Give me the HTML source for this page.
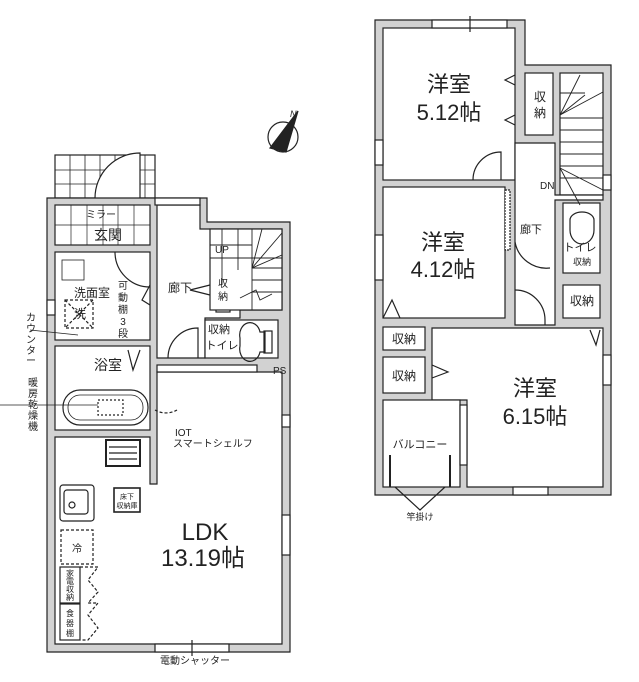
<!DOCTYPE html>
<html><head><meta charset="utf-8"><style>
html,body{margin:0;padding:0;background:#fff;width:639px;height:682px;overflow:hidden}
svg{display:block}
text{font-family:"Liberation Sans","Noto Sans CJK JP",sans-serif;fill:#222}
</style></head><body>
<svg width="639" height="682" viewBox="0 0 639 682" xmlns="http://www.w3.org/2000/svg">
<g stroke="#222" stroke-width="1.2">
<rect x="55" y="155" width="100" height="43" fill="#fff"/>
<g stroke-width="0.8">
<line x1="55" y1="170" x2="155" y2="170"/><line x1="55" y1="184" x2="155" y2="184"/>
<line x1="70" y1="155" x2="70" y2="198"/><line x1="85" y1="155" x2="85" y2="198"/><line x1="100" y1="155" x2="100" y2="198"/><line x1="115" y1="155" x2="115" y2="198"/><line x1="130" y1="155" x2="130" y2="198"/><line x1="145" y1="155" x2="145" y2="198"/>
</g>
<path d="M95 198 A45 45 0 0 1 140 153 L140 198" fill="#fff"/>
<path d="M47 198 H207 V222 H290 V652 H47 Z" fill="#d2d2d2"/>
<rect x="55" y="205" width="95" height="40" fill="#fff"/>
<g stroke-width="0.7"><line x1="55" y1="225" x2="150" y2="225"/><line x1="87" y1="205" x2="87" y2="245"/><line x1="118" y1="205" x2="118" y2="245"/><line x1="71" y1="205" x2="71" y2="245"/><line x1="103" y1="205" x2="103" y2="245"/><line x1="134" y1="205" x2="134" y2="245"/></g>
<rect x="55" y="252" width="95" height="88" fill="#fff"/>
<rect x="55" y="346" width="95" height="84" fill="#fff"/>
<path d="M157 205 H200 V229 H282 V310 H240 V318 H205 V358 H157 Z" fill="#fff"/>
<rect x="205" y="320" width="73" height="38" fill="#fff"/>
<rect x="216" y="273" width="14" height="39" fill="#fff"/>
<path d="M55 437 H150 V484 H157 V372 H282 V644 H55 Z" fill="#fff"/>
<rect x="210" y="229" width="72" height="81" fill="#fff"/>
<g stroke-width="0.9">
<line x1="222" y1="229" x2="222" y2="285"/><line x1="238" y1="229" x2="238" y2="270"/><line x1="252" y1="229" x2="252" y2="268"/>
<line x1="210" y1="245" x2="252" y2="245"/><line x1="210" y1="258" x2="282" y2="258"/><line x1="252" y1="268" x2="282" y2="268"/>
<line x1="252" y1="280" x2="282" y2="280"/><line x1="252" y1="292" x2="282" y2="292"/><line x1="252" y1="268" x2="252" y2="310"/>
<line x1="252" y1="268" x2="282" y2="233"/><line x1="252" y1="268" x2="262" y2="229"/><line x1="252" y1="268" x2="282" y2="255"/>
<path d="M240 298 L256 290 L260 300 L272 294" fill="none"/>
</g>
<rect x="155" y="198" width="45" height="7" fill="#fff"/>
<rect x="157" y="365" width="100" height="7" fill="#fff"/>
<rect x="155" y="644" width="74" height="8" fill="#fff"/>
<line x1="192" y1="640" x2="192" y2="656"/>
<rect x="282" y="515" width="8" height="40" fill="#fff"/>
<rect x="282" y="415" width="8" height="12" fill="#fff"/>
<rect x="47" y="300" width="8" height="15" fill="#fff"/>
<path d="M115 252 A35 35 0 0 0 150 287" fill="none"/>
<path d="M168 358 A30 30 0 0 1 198 328 V358" fill="none"/>
<path d="M150 285 L142 300 L150 305" fill="none"/>
<path d="M210 285 L190 290 L210 295" fill="none"/>
<path d="M128 350 L133 370 L140 350" fill="none"/>
<path d="M155 410 A22 22 0 0 0 177 410" fill="none" stroke-dasharray="3 2"/>
<rect x="62" y="260" width="22" height="20" fill="none" stroke-width="0.8"/>
<rect x="65" y="300" width="28" height="28" fill="none" stroke-dasharray="3 2"/>
<line x1="65" y1="300" x2="93" y2="328" stroke-dasharray="3 2"/><line x1="93" y1="300" x2="65" y2="328" stroke-dasharray="3 2"/>
<rect x="63" y="390" width="85" height="35" rx="17" fill="none"/>
<rect x="68" y="395" width="75" height="25" rx="12" fill="none" stroke-width="0.8"/>
<rect x="98" y="400" width="25" height="15" fill="none" stroke-dasharray="2 2"/>
<line x1="0" y1="405" x2="98" y2="405" stroke-width="0.8"/>
<line x1="30" y1="330" x2="78" y2="335" stroke-width="0.8"/>
<path d="M240 338 A10 12 0 0 1 260 332 H265 V352 H260 A10 12 0 0 1 240 346 Z" fill="none"/>
<rect x="264" y="331" width="8" height="22" fill="none"/>
<rect x="106" y="440" width="34" height="26" fill="#fff" stroke-width="2"/>
<g stroke-width="1.3"><line x1="109" y1="447" x2="137" y2="447"/><line x1="109" y1="453" x2="137" y2="453"/><line x1="109" y1="459" x2="137" y2="459"/></g>
<rect x="60" y="485" width="34" height="36" rx="3" fill="none"/>
<rect x="64" y="490" width="24" height="24" rx="3" fill="none"/>
<circle cx="72" cy="505" r="3" fill="none"/>
<rect x="61" y="530" width="32" height="34" fill="none" stroke-dasharray="3 2"/>
<rect x="60" y="567" width="20" height="36" fill="none"/>
<rect x="60" y="604" width="20" height="36" fill="none"/>
<path d="M80 567 H98 L88 580 L98 592 L88 603 L98 603 L88 615 L98 628 L88 640 H80" fill="none" stroke-dasharray="3 2"/>
<rect x="114" y="488" width="26" height="24" fill="#fff" stroke-width="1.6"/>
<circle cx="283" cy="137" r="15" fill="#fff"/>
<path d="M298 111 L270 148 L286 152 Z" fill="#222"/>
<path d="M375 20 H525 V65 H611 V495 H375 Z" fill="#d2d2d2"/>
<rect x="383" y="28" width="132" height="152" fill="#fff"/>
<rect x="525" y="73" width="28" height="62" fill="#fff"/>
<rect x="560" y="73" width="43" height="122" fill="#fff"/>
<rect x="383" y="187" width="122" height="131" fill="#fff"/>
<path d="M515 143 H555 V195 H603 V200 H555 V325 H515 Z" fill="#fff"/>
<rect x="563" y="203" width="37" height="70" fill="#fff"/>
<rect x="563" y="285" width="37" height="33" fill="#fff"/>
<rect x="383" y="327" width="42" height="23" fill="#fff"/>
<rect x="383" y="357" width="42" height="36" fill="#fff"/>
<path d="M432 328 H603 V487 H467 V400 H432 Z" fill="#fff"/>
<rect x="383" y="400" width="77" height="87" fill="#fff"/>
<g stroke-width="0.9">
<line x1="560" y1="93" x2="585" y2="93"/><line x1="560" y1="118" x2="603" y2="118"/><line x1="560" y1="130" x2="603" y2="130"/><line x1="560" y1="142" x2="603" y2="142"/><line x1="560" y1="154" x2="603" y2="154"/><line x1="560" y1="166" x2="603" y2="166"/><line x1="560" y1="178" x2="603" y2="178"/>
<line x1="560" y1="115" x2="580" y2="75"/><line x1="560" y1="115" x2="603" y2="92"/><line x1="560" y1="115" x2="585" y2="95"/>
<line x1="560" y1="168" x2="580" y2="205"/><line x1="560" y1="168" x2="603" y2="190"/>
</g>
<rect x="432" y="20" width="75" height="8" fill="#fff"/><line x1="470" y1="16" x2="470" y2="32"/>
<rect x="375" y="140" width="8" height="25" fill="#fff"/>
<rect x="375" y="235" width="8" height="45" fill="#fff"/>
<rect x="603" y="175" width="8" height="15" fill="#fff"/>
<rect x="603" y="355" width="8" height="30" fill="#fff"/>
<rect x="513" y="487" width="35" height="8" fill="#fff"/>
<rect x="460" y="405" width="7" height="60" fill="#fff"/>
<rect x="505" y="190" width="5" height="60" fill="#fff" stroke-dasharray="2 1"/>
<path d="M473 180 A28 28 0 0 1 501 152 V180" fill="none"/>
<path d="M515 242 A32 32 0 0 0 550 268" fill="none"/>
<path d="M515 290 A30 30 0 0 1 545 320 V325" fill="none"/>
<path d="M515 75 L505 80 L515 85 M515 115 L505 120 L515 125" fill="none"/>
<path d="M383 318 L392 300 L400 318" fill="none"/>
<path d="M432 365 L448 372 L432 378" fill="none"/>
<path d="M590 330 L596 345 L600 330" fill="none"/>
<path d="M395 487 L420 510 L445 487" fill="none"/>
<line x1="390" y1="455" x2="390" y2="487" stroke-width="2"/><line x1="450" y1="455" x2="450" y2="487" stroke-width="2"/>
<path d="M570 220 A12 8 0 0 1 594 220 V230 A12 14 0 0 1 570 230 Z" fill="none"/>
</g>
<text x="101" y="218" font-size="10" text-anchor="middle">ミラー</text>
<text x="108" y="240" font-size="14" text-anchor="middle">玄関</text>
<text x="215" y="253" font-size="10">UP</text>
<text x="180" y="292" font-size="12" text-anchor="middle">廊下</text>
<text x="223" y="287" font-size="10" text-anchor="middle">収</text><text x="223" y="300" font-size="10" text-anchor="middle">納</text>
<text x="219" y="333" font-size="11" text-anchor="middle">収納</text>
<text x="222" y="349" font-size="11" text-anchor="middle">トイレ</text>
<text x="273" y="374" font-size="10">PS</text>
<text x="92" y="297" font-size="12" text-anchor="middle">洗面室</text>
<text x="80" y="318" font-size="12" text-anchor="middle">洗</text>
<g font-size="10" text-anchor="middle"><text x="123" y="289">可</text><text x="123" y="301">動</text><text x="123" y="313">棚</text><text x="123" y="325">3</text><text x="123" y="337">段</text></g>
<text x="108" y="370" font-size="14" text-anchor="middle">浴室</text>
<text x="175" y="436" font-size="10">IOT</text>
<text x="173" y="447" font-size="10">スマートシェルフ</text>
<text x="127" y="499" font-size="7" text-anchor="middle">床下</text><text x="127" y="508" font-size="7" text-anchor="middle">収納庫</text>
<text x="77" y="552" font-size="10" text-anchor="middle">冷</text>
<g font-size="8" text-anchor="middle"><text x="70" y="576">家</text><text x="70" y="584">電</text><text x="70" y="592">収</text><text x="70" y="600">納</text><text x="70" y="616">食</text><text x="70" y="626">器</text><text x="70" y="636">棚</text></g>
<text x="205" y="540" font-size="24" text-anchor="middle">LDK</text>
<text x="203" y="566" font-size="24" text-anchor="middle">13.19帖</text>
<text x="195" y="664" font-size="10" text-anchor="middle">電動シャッター</text>
<g font-size="10" text-anchor="middle"><text x="31" y="321">カ</text><text x="31" y="332">ウ</text><text x="31" y="343">ン</text><text x="31" y="354">タ</text><text x="31" y="364">ー</text>
<text x="33" y="386">暖</text><text x="33" y="397">房</text><text x="33" y="408">乾</text><text x="33" y="419">燥</text><text x="33" y="430">機</text></g>
<text x="290" y="117" font-size="9" font-style="italic">N</text>
<text x="449" y="92" font-size="22" text-anchor="middle">洋室</text>
<text x="449" y="120" font-size="22" text-anchor="middle">5.12帖</text>
<text x="540" y="101" font-size="12" text-anchor="middle">収</text><text x="540" y="117" font-size="12" text-anchor="middle">納</text>
<text x="540" y="189" font-size="10">DN</text>
<text x="443" y="250" font-size="22" text-anchor="middle">洋室</text>
<text x="443" y="277" font-size="22" text-anchor="middle">4.12帖</text>
<text x="531" y="233" font-size="11" text-anchor="middle">廊下</text>
<text x="580" y="251" font-size="11" text-anchor="middle">トイレ</text>
<text x="582" y="265" font-size="9" text-anchor="middle">収納</text>
<text x="582" y="305" font-size="12" text-anchor="middle">収納</text>
<text x="404" y="343" font-size="12" text-anchor="middle">収納</text>
<text x="404" y="380" font-size="12" text-anchor="middle">収納</text>
<text x="535" y="396" font-size="22" text-anchor="middle">洋室</text>
<text x="535" y="424" font-size="22" text-anchor="middle">6.15帖</text>
<text x="420" y="448" font-size="11" text-anchor="middle">バルコニー</text>
<text x="420" y="520" font-size="9" text-anchor="middle">竿掛け</text>
</svg>
</body></html>
